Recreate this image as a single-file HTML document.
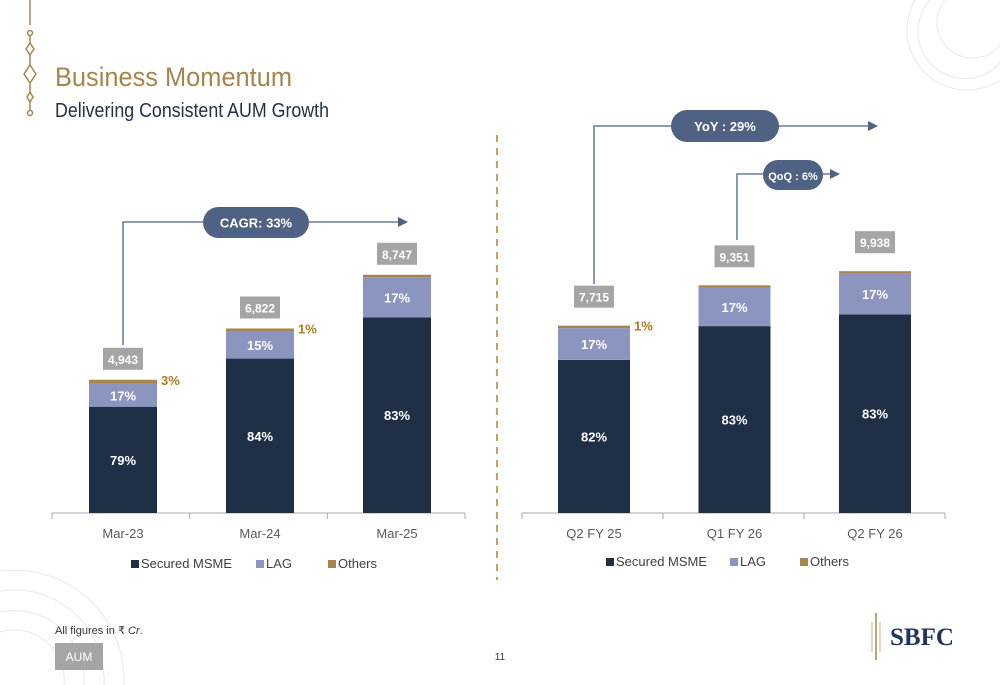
<!DOCTYPE html>
<html><head><meta charset="utf-8"><style>
html,body{margin:0;width:1000px;height:685px;overflow:hidden;background:#fff}
svg{display:block}
text{font-family:"Liberation Sans",sans-serif}
</style></head><body>
<svg id="s" width="1000" height="685" viewBox="0 0 1000 685">
<g opacity="0.35" fill="none" stroke="#c9bfa6">
<path d="M915 0 A60 60 0 0 0 1000 80"/><path d="M930 0 A45 45 0 0 0 1000 63"/><path d="M945 0 A30 30 0 0 0 1000 45"/></g>
<g opacity="0.35" fill="none" stroke="#c9bfa6">
<path d="M0 571 A110 110 0 0 1 124 685"/><path d="M0 591 A90 90 0 0 1 104 685"/><path d="M0 612 A70 70 0 0 1 84 685"/><path d="M0 632 A50 50 0 0 1 64 685"/></g>
<g stroke="#a8844d" fill="none" stroke-width="1.5">
<line x1="30" y1="0" x2="30" y2="25"/><circle cx="30" cy="33" r="2.5"/><line x1="30" y1="36" x2="30" y2="43"/>
<path d="M30 43 L34 49 L30 55 L26 49 Z"/><line x1="30" y1="55" x2="30" y2="65"/>
<path d="M30 65 L36 74 L30 83 L24 74 Z"/><line x1="30" y1="83" x2="30" y2="92"/>
<path d="M30 92 L33 97 L30 102 L27 97 Z"/><line x1="30" y1="102" x2="30" y2="110"/><circle cx="30" cy="113" r="2.5"/></g>
<text x="55" y="86" font-size="27" fill="#a8844d" textLength="237" lengthAdjust="spacingAndGlyphs">Business Momentum</text>
<text x="55" y="117" font-size="20" fill="#1f2f46" textLength="274" lengthAdjust="spacingAndGlyphs">Delivering Consistent AUM Growth</text>
<line x1="497" y1="135" x2="497" y2="580" stroke="#c9a063" stroke-width="2" stroke-dasharray="7,6"/>
<g id="charts"></g>
<text x="55" y="634" font-size="11" fill="#333">All figures in ₹ <tspan font-style="italic">Cr</tspan>.</text>
<rect x="55" y="643" width="48" height="27" fill="#a5a5a5"/>
<text x="79" y="661" font-size="12" fill="#fff" text-anchor="middle">AUM</text>
<text x="500" y="660" font-size="10" fill="#333" text-anchor="middle">11</text>
<g>
<line x1="876" y1="613" x2="876" y2="660" stroke="#a8844d" stroke-width="1.5"/>
<line x1="872" y1="622" x2="872" y2="652" stroke="#c9b08a" stroke-width="1"/>
<line x1="880" y1="622" x2="880" y2="652" stroke="#c9b08a" stroke-width="1"/>
<text x="890" y="645" font-size="25" font-weight="bold" fill="#1f3560" style="font-family:'Liberation Serif',serif">SBFC</text></g>
</svg>
<script>
const leftCats=["Mar-23","Mar-24","Mar-25"];
const leftTotals=[4943,6822,8747];
const leftSecured=[79,84,83];
const leftLag=[17,15,17];
const leftOthers=[3,1,0];
const leftOthersLabel=["3%","1%",""];
const rightCats=["Q2 FY 25","Q1 FY 26","Q2 FY 26"];
const rightTotals=[7715,9351,9938];
const rightSecured=[82,83,83];
const rightLag=[17,17,17];
const rightOthers=[1,0.5,0.5];
const rightOthersLabel=["1%","",""];

const NS="http://www.w3.org/2000/svg";
const root=document.getElementById("charts");
function el(tag,attrs,parent,txt){const e=document.createElementNS(NS,tag);for(const k in attrs)e.setAttribute(k,attrs[k]);if(txt!==undefined)e.textContent=txt;(parent||root).appendChild(e);return e;}
const fmt=v=>v.toLocaleString("en-US");

function chart(o){
  const base=513, bw=o.bw;
  const yScale=v=>v*o.k;
  const xCenter=i=>o.x0+o.step*i;
  const g=el("g",{});
  
  
  const ax=el("line",{x1:o.ax1,y1:base,x2:o.ax2,y2:base,stroke:"#aaa","stroke-width":1},g);
  
  
  for(let i=0;i<=3;i++){const x=o.ax1+(o.ax2-o.ax1)*i/3;el("line",{x1:x,y1:base,x2:x,y2:base+6,stroke:"#aaa"},g);}
  o.cats.forEach((c,i)=>{
    const cx=xCenter(i),x=cx-bw/2,tot=o.totals[i];
    const sum=o.sec[i]+o.lag[i]+o.oth[i];
    const H=yScale(tot);
    const hs=H*o.sec[i]/sum,hl=H*o.lag[i]/sum,ho=Math.max(H*o.oth[i]/sum,2.5);
    const slug=c.toLowerCase().replace(/\s+/g,'-');
    const r1=el("rect",{x:x,y:base-hs,width:bw,height:hs,fill:"#1f2f46"},g);
    
    
    const r2=el("rect",{x:x,y:base-hs-hl,width:bw,height:hl,fill:"#8c95c0"},g);
    
    
    const r3=el("rect",{x:x,y:base-hs-hl-ho,width:bw,height:ho,fill:"#a8844d"},g);
    
    
    const t1=el("text",{x:cx,y:base-hs/2+5,"font-size":13,"font-weight":"bold",fill:"#fff","text-anchor":"middle"},g,o.sec[i]+"%");
    
    
    const t2=el("text",{x:cx,y:base-hs-hl/2+5,"font-size":13,"font-weight":"bold",fill:"#fff","text-anchor":"middle"},g,o.lag[i]+"%");
    
    
    if(o.othLbl[i]){const t3=el("text",{x:x+bw+4,y:base-hs-hl-ho+5,"font-size":13,"font-weight":"bold",fill:"#b07d1a"},g,o.othLbl[i]);
      
      }
    const Ht=hs+hl+ho;
    const by=base-Ht-o.gap-22;
    const tb=el("rect",{x:cx-20,y:by,width:40,height:22,fill:"#a5a5a5"},g);
    
    
    const tt=el("text",{x:cx,y:by+16,"font-size":12,"font-weight":"bold",fill:"#fff","text-anchor":"middle"},g,fmt(tot));
    
    
    const xl=el("text",{x:cx,y:538,"font-size":13,fill:"#595959","text-anchor":"middle"},g,c);
    
    
  });
  o.legend.forEach((L,i)=>{
    const lg=el("g",{},g);
    
    
    el("rect",{x:L[1],y:o.ly-8,width:8,height:8,fill:L[2]},lg);
    el("text",{x:L[1]+10,y:o.ly,"font-size":13,fill:"#404040"},lg,L[0]);
  });
}
chart({name:"chart-annual-aum",cats:leftCats,totals:leftTotals,sec:leftSecured,lag:leftLag,oth:leftOthers,othLbl:leftOthersLabel,
 x0:123,step:137,bw:68,k:0.02695,gap:10,ax1:52,ax2:465,ly:568,
 legend:[["Secured MSME",131,"#1f2f46"],["LAG",256,"#8c95c0"],["Others",328,"#a8844d"]]});
chart({name:"chart-quarterly-aum",cats:rightCats,totals:rightTotals,sec:rightSecured,lag:rightLag,oth:rightOthers,othLbl:rightOthersLabel,
 x0:594,step:140.5,bw:72,k:0.0242,gap:18,ax1:522,ax2:945,ly:566,
 legend:[["Secured MSME",606,"#1f2f46"],["LAG",730,"#8c95c0"],["Others",800,"#a8844d"]]});

function growth(name,x,yStart,yTop,xEnd,px,pw,py,ph,label,fs){
  const g=el("g",{});
  
  
  el("polyline",{points:`${x},${yStart} ${x},${yTop} ${xEnd},${yTop}`,fill:"none",stroke:"#4f6283","stroke-width":1.3},g);
  el("path",{d:`M${xEnd} ${yTop-5} L${xEnd+10} ${yTop} L${xEnd} ${yTop+5} Z`,fill:"#4f6283"},g);
  el("rect",{x:px,y:py,width:pw,height:ph,rx:ph/2,fill:"#4f6283"},g);
  el("text",{x:px+pw/2,y:py+ph/2+5,"font-size":fs,"font-weight":"bold",fill:"#fff","text-anchor":"middle"},g,label);
}
growth("cagr-callout",123,345,222,398,203,106,207,31,"CAGR: 33%",13);
growth("yoy-callout",594,284,126,868,671,108,110,32,"YoY : 29%",13);
growth("qoq-callout",737,240,174,830,763,60,160,30,"QoQ : 6%",11);
</script>
</body></html>
